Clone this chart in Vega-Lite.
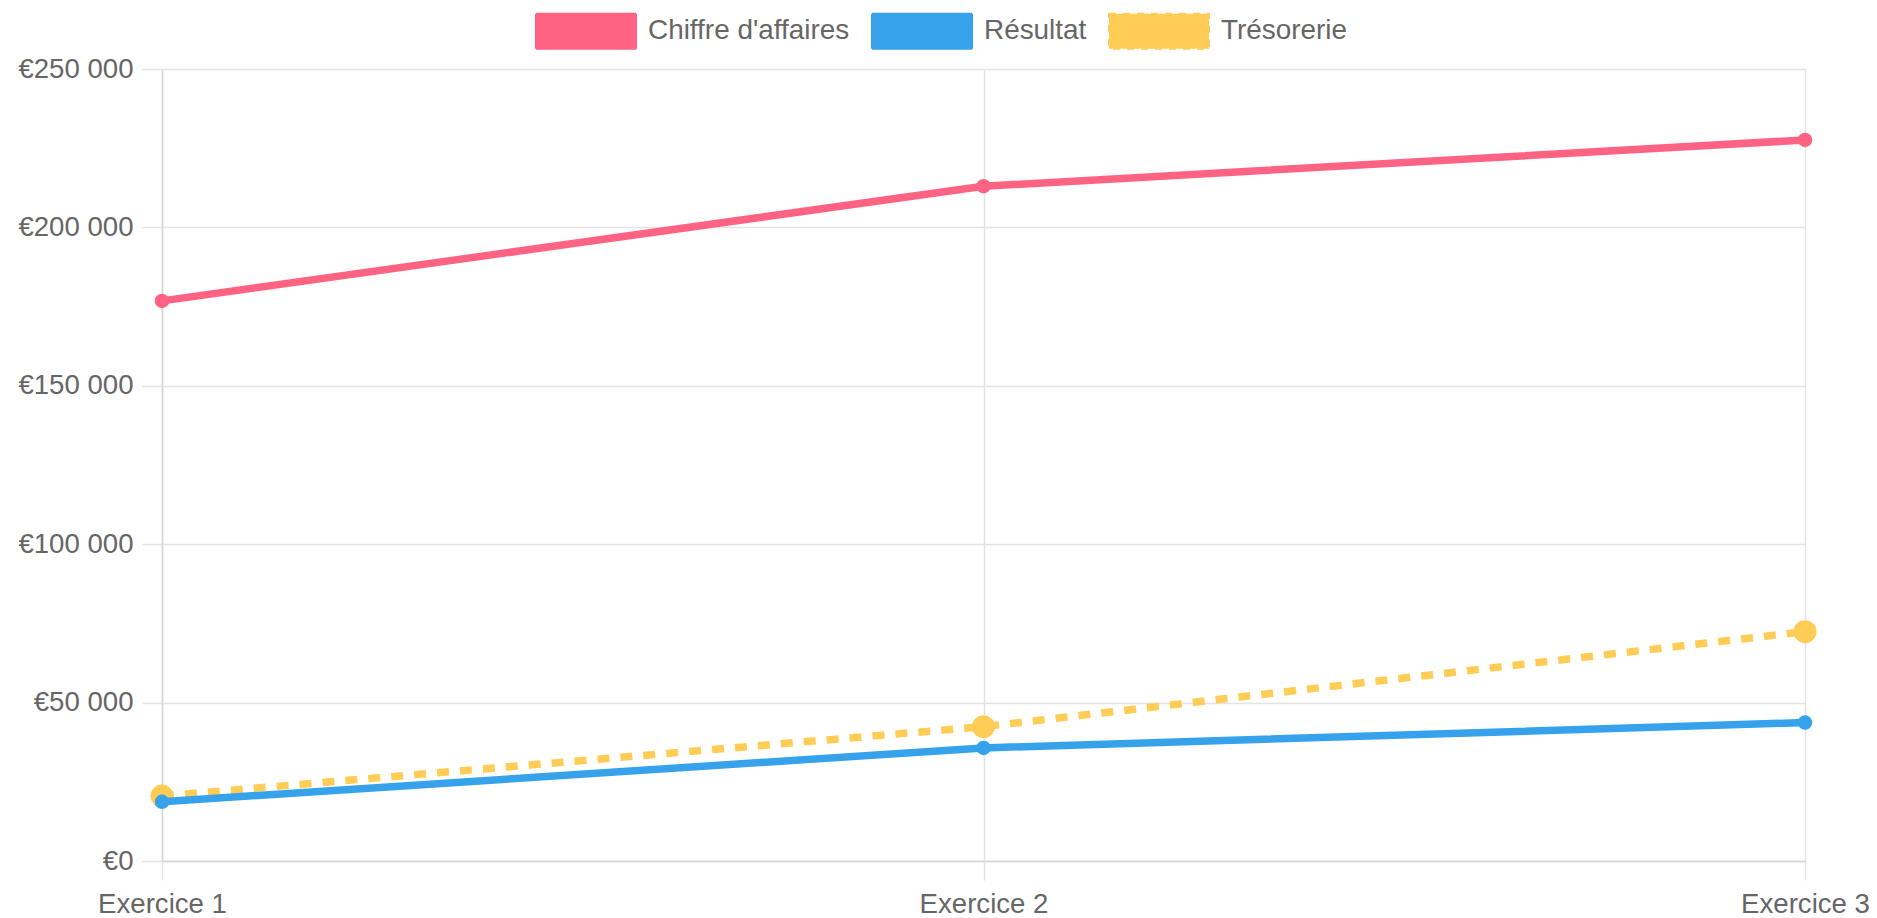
{
  "$schema": "https://vega.github.io/schema/vega-lite/v6.json",
  "width": 1643,
  "height": 792,
  "autosize": {"type": "none"},
  "padding": {"left": 162, "top": 69, "right": 72, "bottom": 57},
  "background": "white",
  "data": {
    "values": [
      {"exercice": "Exercice 1", "series": "Chiffre d'affaires", "value": 176800},
      {"exercice": "Exercice 2", "series": "Chiffre d'affaires", "value": 213000},
      {"exercice": "Exercice 3", "series": "Chiffre d'affaires", "value": 227600},
      {"exercice": "Exercice 1", "series": "Résultat", "value": 18700},
      {"exercice": "Exercice 2", "series": "Résultat", "value": 35700},
      {"exercice": "Exercice 3", "series": "Résultat", "value": 43700},
      {"exercice": "Exercice 1", "series": "Trésorerie", "value": 20500},
      {"exercice": "Exercice 2", "series": "Trésorerie", "value": 42400},
      {"exercice": "Exercice 3", "series": "Trésorerie", "value": 72400}
    ]
  },
  "encoding": {
    "x": {
      "field": "exercice",
      "type": "ordinal",
      "scale": {"type": "point", "padding": 0},
      "axis": {
        "title": null,
        "labelAngle": 0,
        "labelFont": "Liberation Sans",
        "labelFontSize": 27.6,
        "labelColor": "#666666",
        "labelPadding": 10,
        "tickSize": 19,
        "tickColor": "#e3e3e3",
        "tickWidth": 1.5,
        "grid": true,
        "gridColor": "#e3e3e3",
        "gridWidth": 1.5,
        "domainColor": "#d6d6d6",
        "domainWidth": 1.5,
        "labelOverlap": false,
        "labelBound": false
      }
    },
    "y": {
      "field": "value",
      "type": "quantitative",
      "scale": {"domain": [0, 250000], "nice": false},
      "axis": {
        "title": null,
        "values": [0, 50000, 100000, 150000, 200000, 250000],
        "format": "$,.0f",
        "labelFont": "Liberation Sans",
        "labelFontSize": 27.6,
        "labelColor": "#666666",
        "labelPadding": 9,
        "labelFlush": false,
        "tickSize": 20,
        "tickColor": "#e3e3e3",
        "tickWidth": 1.5,
        "grid": true,
        "gridColor": "#e3e3e3",
        "gridWidth": 1.5,
        "domainColor": "#d6d6d6",
        "domainWidth": 1.5
      }
    },
    "color": {
      "field": "series",
      "type": "nominal",
      "scale": {
        "domain": ["Chiffre d'affaires", "Résultat", "Trésorerie"],
        "range": ["#ff6384", "#36a2eb", "#ffcd56"]
      },
      "legend": {
        "title": null,
        "orient": "none",
        "direction": "horizontal",
        "legendX": 373,
        "legendY": -89,
        "padding": 0,
        "symbolType": "M-1,-0.35L1,-0.35L1,0.35L-1,0.35Z",
        "symbolSize": 10000,
        "symbolStrokeWidth": 2,
        "symbolOpacity": 1,
        "labelFont": "Liberation Sans",
        "labelFontSize": 27.9,
        "labelColor": "#666666",
        "labelOffset": 11,
        "columnPadding": 18,
        "labelLimit": 400,
        "encode": {
          "symbols": {
            "update": {
              "fill": {"scale": "color", "field": "value"},
              "stroke": {"scale": "color", "field": "value"},
              "strokeDash": [
                {"test": "datum.value === 'Trésorerie'", "value": [7, 7]},
                {"value": [1, 0]}
              ]
            }
          }
        }
      }
    }
  },
  "layer": [
    {
      "transform": [{"filter": "datum.series === 'Trésorerie'"}],
      "mark": {"type": "line", "strokeWidth": 7.5, "strokeDash": [12, 11], "strokeCap": "butt"}
    },
    {
      "transform": [{"filter": "datum.series === 'Trésorerie'"}],
      "mark": {"type": "point", "filled": true, "opacity": 1, "size": 530, "shape": "circle"}
    },
    {
      "transform": [{"filter": "datum.series === 'Résultat'"}],
      "mark": {"type": "line", "strokeWidth": 7.5}
    },
    {
      "transform": [{"filter": "datum.series === 'Résultat'"}],
      "mark": {"type": "point", "filled": true, "opacity": 1, "size": 210, "shape": "circle"}
    },
    {
      "transform": [{"filter": "datum.series === \"Chiffre d'affaires\""}],
      "mark": {"type": "line", "strokeWidth": 7.5}
    },
    {
      "transform": [{"filter": "datum.series === \"Chiffre d'affaires\""}],
      "mark": {"type": "point", "filled": true, "opacity": 1, "size": 210, "shape": "circle"}
    }
  ],
  "config": {
    "view": {"stroke": null},
    "locale": {
      "number": {
        "decimal": ",",
        "thousands": " ",
        "grouping": [3],
        "currency": ["€", ""]
      }
    }
  }
}
